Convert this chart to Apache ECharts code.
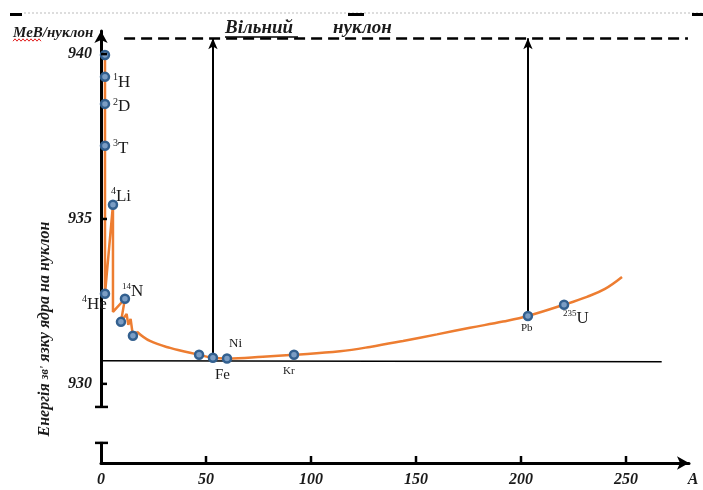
<!DOCTYPE html>
<html><head><meta charset="utf-8">
<script src="https://cdn.jsdelivr.net/npm/echarts@6/dist/echarts.min.js"></script>
<style>html,body{margin:0;padding:0;background:#fff}#c{width:703px;height:490px}</style>
</head><body><div id="c"></div>
<script>
// ---------- data ----------
const xTickLabels = [0, 50, 100, 150, 200, 250];
const xTickMarks = [50, 100, 150, 200, 250];
const yTickLabels = [930, 935, 940];
// orange curve: jagged light-nuclei part (A, MeV/nucleon)
const lightA = [1.9, 1.9, 5.7, 5.7, 11.4, 9.5, 12.2, 13.0, 14.1, 15.2, 17.1];
const lightE = [939.97, 932.73, 935.43, 932.18, 932.58, 931.88, 932.12, 931.79, 931.97, 931.46, 931.58];
// orange curve: smooth part
const heavyA = [17.1, 23.3, 32.9, 46.7, 53.3, 60.0, 77.1, 91.9, 113.8, 128.1, 143.8, 160.0, 175.7, 191.4, 203.3, 220.5, 231.4, 240.0, 248.1];
const heavyE = [931.58, 931.30, 931.09, 930.88, 930.79, 930.77, 930.82, 930.88, 930.99, 931.12, 931.30, 931.50, 931.70, 931.89, 932.06, 932.40, 932.64, 932.88, 933.24];
// marked nuclei
const pointA = [1.9, 1.9, 1.9, 1.9, 5.7, 1.9, 11.4, 9.5, 15.2, 46.7, 53.3, 60.0, 91.9, 203.3, 220.5];
const pointE = [939.97, 939.31, 938.49, 937.22, 935.43, 932.73, 932.58, 931.88, 931.46, 930.88, 930.79, 930.77, 930.88, 932.06, 932.40];
const pointSup = ['', '1', '2', '3', '4', '4', '14', '', '', '', '', '', '', '', '235'];
const pointName = ['', 'H', 'D', 'T', 'Li', 'He', 'N', '', '', '', 'Fe', 'Ni', 'Kr', 'Pb', 'U'];
// free nucleon level and arrows
const freeNucleonE = 940.48;
const freeLineA = [11, 279.5];
const arrowA = [53.3, 203.3];
const arrowFromE = [930.79, 932.06];
const groundA = [0, 267];
const groundE = [930.70, 930.67];
const yMin = 927.6, yMax = 940.7, xMin = 0, xMax = 280;

// ---------- styles ----------
const serif = '"Liberation Serif","DejaVu Serif",serif';
const orange = '#ed7d31';
const txt = '#1a1a1a';
const rich = {
  sup: {fontSize: 10, fontFamily: serif, color: txt, verticalAlign: 'top', lineHeight: 18},
  sup2: {fontSize: 9, fontFamily: serif, color: txt, verticalAlign: 'top', lineHeight: 18},
  big: {fontSize: 17, fontFamily: serif, color: txt, verticalAlign: 'bottom', lineHeight: 18},
  mid: {fontSize: 15, fontFamily: serif, color: txt},
  sm: {fontSize: 13, fontFamily: serif, color: txt},
  xs: {fontSize: 11, fontFamily: serif, color: txt}
};
// per point label: [dx, dy, style]
const labelLayout = [null, [8, 5, 'big'], [8, 2, 'big'], [8, 2, 'big'], [-2, -9, 'big'], [-23, 10, 'big'],
  [-3, -8, 'big'], null, null, null, [2, 17, 'mid'], [2, -15, 'sm'], [-11, 16, 'xs'], [-7, 12, 'xs'], [-1, 13, 'big']];

const pointData = pointA.map((a, i) => {
  const L = labelLayout[i];
  if (!L) return {value: [a, pointE[i]], label: {show: false}};
  const sup = pointSup[i] ? '{' + (pointSup[i].length > 1 ? 'sup2' : 'sup') + '|' + pointSup[i] + '}' : '';
  return {
    value: [a, pointE[i]],
    label: {show: true, position: 'inside', align: 'left', verticalAlign: 'middle', offset: [L[0], L[1]],
      formatter: sup + '{' + L[2] + '|' + pointName[i] + '}', rich: rich}
  };
});

const chart = echarts.init(document.getElementById('c'));
const axisFont = {fontFamily: serif, fontWeight: 'bold', fontStyle: 'italic', fontSize: 16, color: txt};

chart.setOption({
  animation: false,
  grid: {left: 101, right: 14, top: 31, bottom: 27},
  xAxis: {
    type: 'value', min: xMin, max: xMax,
    axisLine: {show: true, symbol: ['none', 'arrow'], symbolSize: [10, 12], lineStyle: {color: '#000', width: 3}},
    axisTick: {show: false},
    axisLabel: {customValues: xTickLabels, margin: 9, ...axisFont},
    splitLine: {show: false}
  },
  yAxis: {
    type: 'value', min: yMin, max: yMax,
    axisLine: {show: true, symbol: ['none', 'arrow'], symbolSize: [10, 12], lineStyle: {color: '#000', width: 3}},
    axisTick: {show: false},
    axisLabel: {customValues: yTickLabels, margin: 9, ...axisFont},
    splitLine: {show: false}
  },
  series: [
    {
      type: 'line', data: heavyA.map((a, i) => [a, heavyE[i]]), smooth: 0.4, symbol: 'none',
      lineStyle: {color: orange, width: 2.5}, z: 2
    },
    {
      type: 'line', data: lightA.map((a, i) => [a, lightE[i]]), symbol: 'none',
      lineStyle: {color: orange, width: 2.5}, z: 2,
      markLine: {
        silent: true, symbol: ['none', 'none'], label: {show: false}, animation: false,
        data: [
          [{coord: [freeLineA[0], freeNucleonE], lineStyle: {color: '#000', width: 2.5, type: [11, 6]}},
           {coord: [freeLineA[1], freeNucleonE]}],
          [{coord: [groundA[0], groundE[0]], lineStyle: {color: '#000', width: 1.5, type: 'solid'}},
           {coord: [groundA[1], groundE[1]]}],
          [{coord: [arrowA[0], arrowFromE[0]], lineStyle: {color: '#000', width: 2, type: 'solid'}},
           {coord: [arrowA[0], freeNucleonE], symbol: 'arrow', symbolSize: [7, 11]}],
          [{coord: [arrowA[1], arrowFromE[1]], lineStyle: {color: '#000', width: 2, type: 'solid'}},
           {coord: [arrowA[1], freeNucleonE], symbol: 'arrow', symbolSize: [7, 11]}]
        ]
      }
    },
    {
      type: 'scatter', data: pointData, symbol: 'circle', symbolSize: 8, z: 5,
      itemStyle: {color: '#7b9dc4', borderColor: '#33608f', borderWidth: 2.5, opacity: 1}
    }
  ]
});

// decorations positioned through the axes
const px = (a, e) => chart.convertToPixel({xAxisIndex: 0, yAxisIndex: 0}, [a, e]);
const axX = px(0, 930)[0];
const axY = px(0, yMin)[1];
const brTop = px(0, 929.3)[1];
const brBot = px(0, 928.21)[1];
const boldItal = {fontFamily: serif, fontWeight: 'bold', fontStyle: 'italic', fill: txt};
const wave = [];
for (let i = 0; i <= 14; i++) wave.push([13 + i * 2, 40 + (i % 2 ? -1.2 : 1.2)]);

const ticks = [];
yTickLabels.forEach(v => {
  const y = px(0, v)[1];
  ticks.push({type: 'line', z: 60, shape: {x1: axX, y1: y, x2: axX + 6, y2: y}, style: {stroke: '#000', lineWidth: 2.5}});
});
xTickMarks.forEach(a => {
  const x = px(a, 930)[0];
  ticks.push({type: 'line', z: 60, shape: {x1: x, y1: axY, x2: x, y2: axY - 7}, style: {stroke: '#000', lineWidth: 2.5}});
});

chart.setOption({
  graphic: ticks.concat([
    {type: 'rect', z: 100, shape: {x: axX - 6, y: brTop + 1, width: 12, height: brBot - brTop - 2}, style: {fill: '#fff'}},
    {type: 'line', z: 101, shape: {x1: axX - 6, y1: brTop, x2: axX + 7, y2: brTop}, style: {stroke: '#000', lineWidth: 2.5}},
    {type: 'line', z: 101, shape: {x1: axX - 6, y1: brBot, x2: axX + 7, y2: brBot}, style: {stroke: '#000', lineWidth: 2.5}},
    // page artifacts at top
    {type: 'line', z: 1, shape: {x1: 24, y1: 13, x2: 703, y2: 13}, style: {stroke: '#bbbbbb', lineWidth: 1, lineDash: [2, 2]}},
    {type: 'rect', z: 2, shape: {x: 10, y: 13, width: 12, height: 3}, style: {fill: '#000'}},
    {type: 'rect', z: 2, shape: {x: 348, y: 13, width: 16, height: 3}, style: {fill: '#000'}},
    {type: 'rect', z: 2, shape: {x: 692, y: 13, width: 11, height: 3}, style: {fill: '#000'}},
    // unit label
    {type: 'text', z: 50, x: 13, y: 33, style: {text: 'МеВ/нуклон', fontSize: 15, ...boldItal, verticalAlign: 'middle'}},
    {type: 'polyline', z: 50, shape: {points: wave}, style: {stroke: '#e02020', lineWidth: 1, fill: null}},
    // free nucleon label
    {type: 'text', z: 50, x: 225, y: 28, style: {text: 'Вільний', fontSize: 19, ...boldItal, verticalAlign: 'middle'}},
    {type: 'line', z: 50, shape: {x1: 225, y1: 37, x2: 298, y2: 37}, style: {stroke: '#000', lineWidth: 1.5}},
    {type: 'text', z: 50, x: 333, y: 28, style: {text: 'нуклон', fontSize: 19, ...boldItal, verticalAlign: 'middle'}},
    // axis names
    {type: 'text', z: 50, x: 693, y: 480, style: {text: 'A', fontSize: 16, ...boldItal, align: 'center', verticalAlign: 'middle'}},
    {type: 'text', z: 50, x: 45, y: 329, rotation: Math.PI / 2,
      style: {text: '{a|Енергія }{b|зв\'}{a| язку ядра на нуклон}', align: 'center', verticalAlign: 'middle',
        rich: {a: {fontSize: 16, ...boldItal}, b: {fontSize: 12, ...boldItal}}}}
  ])
});
</script></body></html>
